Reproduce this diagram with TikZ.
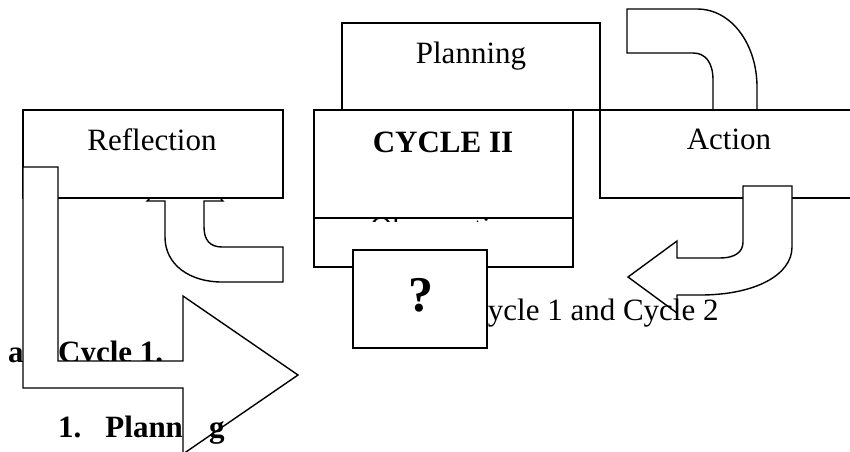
\documentclass[tikz,border=0pt]{standalone}
\usepackage{fontspec}
\setmainfont{Liberation Serif}
\begin{document}
\begin{tikzpicture}[
    x=1pt, y=-1pt,
    box/.style={rectangle, draw, line width=1.4pt, fill=white, inner sep=0pt},
    blockarrow/.style={draw, line width=1.4pt, fill=white, line join=miter},
    txt/.style={font=\fontsize{31}{36}\selectfont, inner sep=0pt},
    boldtxt/.style={font=\fontsize{31}{36}\selectfont\bfseries, inner sep=0pt},
    bigtxt/.style={font=\fontsize{50}{54}\selectfont\bfseries, inner sep=0pt}
]
\useasboundingbox (0,0) rectangle (850,451);

% Text under the big arrow
\node[boldtxt, anchor=base west] (itema) at (8,362) {a};
\node[boldtxt, anchor=base west] (cycleone) at (58,362) {Cycle 1.};

% Curved arrows behind the boxes
\draw[blockarrow] (204,201) -- (204,227) .. controls (204,240) and (210,247) .. (222,247)
    -- (283,247) -- (283,282) -- (222,282) .. controls (190,282) and (165,265) .. (165,237)
    -- (165,201) -- (147,201) -- (185,163) -- (223,201) -- cycle;
\draw[blockarrow] (627,9) -- (697,9) .. controls (732,9) and (757,45) .. (757,87)
    -- (757,115) -- (773,115) -- (735,152) -- (697,115) -- (713,115)
    -- (713,80) .. controls (713,62) and (705,53) .. (693,53) -- (627,53) -- cycle;

% Boxes
\node[box, minimum width=258pt, minimum height=87pt] (planning) at (471,66.5) {};
\node[txt, anchor=base] (planningtxt) at (471,63) {Planning};

\node[box, minimum width=259pt, minimum height=67pt] (observation) at (443.5,233.5) {};
\begin{scope}
\clip (314,200) rectangle (573,221);
\node[txt, anchor=base] (observationtxt) at (446,238) {Observation};
\end{scope}

\node[box, minimum width=259pt, minimum height=108pt] (cycletwo) at (443.5,164) {};
\node[boldtxt, anchor=base] (cycletwotxt) at (443,152) {CYCLE II};

\node[box, minimum width=260pt, minimum height=88pt] (reflection) at (153,154) {};
\node[txt, anchor=base] (reflectiontxt) at (152,150) {Reflection};

\node[box, minimum width=270pt, minimum height=88pt] (action) at (735,154) {};
\node[txt, anchor=base] (actiontxt) at (729,149) {Action};

% Arrows in front
\draw[blockarrow] (743,186) -- (792,186) -- (792,247) .. controls (792,275) and (755,295) .. (700,295)
    -- (677,295) -- (677,313) -- (628,277) -- (677,241) -- (677,258) -- (720,258)
    .. controls (735,258) and (743,252) .. (743,242) -- cycle;
\draw[blockarrow] (23,167) -- (58,167) -- (58,361) -- (183,361) -- (183,296) -- (298,375)
    -- (183,454) -- (183,388) -- (23,388) -- cycle;

% Texts
\node[txt, anchor=base west] (caption) at (467,320) {Cycle 1 and Cycle 2};
\node[boldtxt, anchor=base west] (itemone) at (58,437) {1.\hspace{24pt}Plann};
\node[boldtxt, anchor=base west] (itemonerest) at (209,437) {g};

% Question box
\node[box, minimum width=134pt, minimum height=98pt] (question) at (420,299) {};
\node[bigtxt, anchor=base] (questiontxt) at (421,311) {?};
\end{tikzpicture}
\end{document}
